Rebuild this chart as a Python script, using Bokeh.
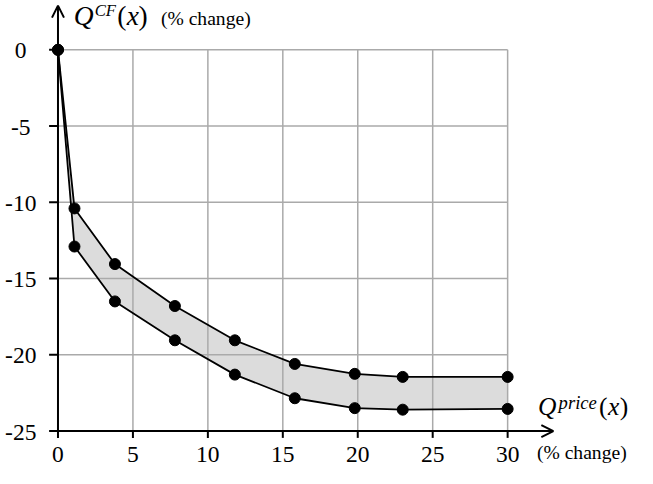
from bokeh.plotting import figure
from bokeh.models import Range1d, Arrow, OpenHead
from bokeh.core.properties import value
from bokeh.embed import file_html
from bokeh.resources import INLINE

# ---- data ----
x_vals = [0, 1.1, 3.8, 7.8, 11.8, 15.8, 19.8, 23.0, 30]
upper = [0, -10.4, -14.05, -16.8, -19.05, -20.6, -21.25, -21.45, -21.45]
lower = [0, -12.9, -16.5, -19.05, -21.3, -22.85, -23.5, -23.6, -23.55]
x_ticks = [0, 5, 10, 15, 20, 25, 30]
y_ticks = [0, -5, -10, -15, -20, -25]
x_tick_labels = ["0", "5", "10", "15", "20", "25", "30"]
y_tick_labels = ["0", "-5", "-10", "-15", "-20", "-25"]
x_min, x_max = 0, 30
y_min, y_max = -25, 0
x_arrow_end = 33.05
y_arrow_end = 2.9

# ---- layout: reference-picture pixel -> data ----
W, H = 637, 468
RX0, RSX = 62.3, 15.2    # ref px of x=0, px per unit
RY0, RSY = 52.3, 15.54   # ref px of y=0, px per unit
KX = W / 646.0
KY = H / 477.0


def rx(px):
    return (px - RX0) / RSX


def ry(py):
    return (RY0 - py) / RSY


p = figure(width=W, height=H, output_backend="svg", toolbar_location=None,
           x_axis_type=None, y_axis_type=None,
           x_range=Range1d(rx(4), rx(650)), y_range=Range1d(ry(479), ry(2)),
           min_border=0, outline_line_color=None, background_fill_color="white")
p.grid.visible = False

FONT = value("Liberation Serif")


def fs(px):
    return "%.1fpx" % (px * KY)


# band
p.varea(x=x_vals, y1=lower, y2=upper, fill_color="#dcdcdc")

# grid
gx = [t for t in x_ticks if t > x_min]
p.segment(x0=gx, y0=[y_min] * len(gx), x1=gx, y1=[y_max] * len(gx),
          line_color="#aaaaaa", line_width=1.5)
gy = [t for t in y_ticks if t > y_min]
p.segment(x0=[x_min] * len(gy), y0=gy, x1=[x_max] * len(gy), y1=gy,
          line_color="#aaaaaa", line_width=1.5)

# ticks
tick_len_x = 7 / RSY
tick_len_y = 9 / RSX
p.segment(x0=x_ticks, y0=[y_min] * len(x_ticks), x1=x_ticks,
          y1=[y_min - tick_len_x] * len(x_ticks), line_color="black", line_width=2)
p.segment(x0=[x_min] * len(y_ticks), y0=y_ticks, x1=[x_min - tick_len_y] * len(y_ticks),
          y1=y_ticks, line_color="black", line_width=2)

# axes with arrows
p.add_layout(Arrow(x_start=x_min, y_start=y_min, x_end=x_arrow_end, y_end=y_min,
                   line_width=2, line_color="black",
                   end=OpenHead(size=12, line_width=2, line_color="black")))
p.add_layout(Arrow(x_start=x_min, y_start=y_min, x_end=x_min, y_end=y_arrow_end,
                   line_width=2, line_color="black",
                   end=OpenHead(size=12, line_width=2, line_color="black")))

# lines + points
p.line(x_vals, upper, line_color="black", line_width=1.8)
p.line(x_vals, lower, line_color="black", line_width=1.8)
p.scatter(x_vals, upper, size=11, color="black")
p.scatter(x_vals, lower, size=11, color="black")

# tick labels
p.text(x=x_ticks, y=[ry(464.5)] * len(x_ticks), text=x_tick_labels,
       text_font=FONT, text_font_size=fs(24), text_align="center",
       text_baseline="middle", text_color="black")
p.text(x=[rx(24.5)] * len(y_ticks), y=y_ticks, text=y_tick_labels,
       text_font=FONT, text_font_size=fs(24), text_align="center",
       text_baseline="middle", text_color="black", y_offset=1)


def txt(px, py, s, size, italic=False):
    # py: reference baseline; placed by the middle of the em box
    mid = py - 0.34 * size
    p.text(x=[rx(px)], y=[ry(mid)], text=[s], text_font=FONT,
           text_font_size=fs(size), text_font_style="italic" if italic else "normal",
           text_align="left", text_baseline="middle", text_color="black")


# y axis title: Q^{CF}(x) (% change)
yb = 27
txt(78.3, yb, "Q", 28, True)
txt(99.5, yb - 9, "CF", 17, True)
txt(122.5, yb, "(", 28)
txt(132.0, yb, "x", 28, True)
txt(144.0, yb, ")", 28)
txt(166.7, yb, "(% change)", 20)

# x axis title: Q^{price}(x)
xb = 424.3
txt(549, xb, "Q", 26, True)
txt(570, xb - 6.3, "price", 19, True)
txt(611, xb, "(", 26)
txt(620, xb, "x", 26, True)
txt(632, xb, ")", 26)
txt(548, 470, "(% change)", 20)

open("out.html", "w").write(file_html(p, INLINE))
